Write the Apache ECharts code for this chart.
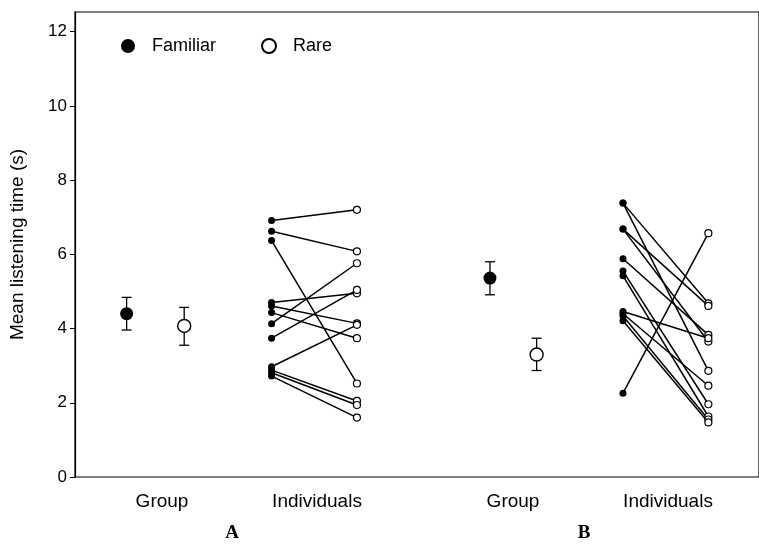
<!DOCTYPE html>
<html>
<head>
<meta charset="utf-8">
<script src="https://cdn.jsdelivr.net/npm/echarts@6/dist/echarts.min.js"></script>
<style>html,body{margin:0;padding:0;background:#fff}#c{width:759px;height:544px}</style>
</head>
<body>
<div id="c"></div>
<script>
// ---- data ----
var yTicks = [0, 2, 4, 6, 8, 10, 12];
var groupLabels = ['Group', 'Individuals', 'Group', 'Individuals'];
var panelLabels = ['A', 'B'];
var legendNames = ['Familiar', 'Rare'];
// group means with error bars [mean, low, high]
var groupA_familiar = [4.40, 3.96, 4.84];
var groupA_rare = [4.07, 3.55, 4.57];
var groupB_familiar = [5.36, 4.91, 5.80];
var groupB_rare = [3.30, 2.87, 3.74];
// individuals (familiar -> rare)
var indA_familiar = [6.91, 6.62, 6.37, 4.70, 4.61, 4.43, 4.13, 3.74, 2.97, 2.88, 2.81, 2.72];
var indA_rare     = [7.20, 6.08, 2.52, 4.95, 4.14, 3.74, 5.76, 5.04, 4.10, 2.05, 1.94, 1.60];
var indB_familiar = [7.38, 7.38, 6.68, 6.68, 5.88, 5.55, 5.42, 4.46, 4.40, 4.34, 4.21, 2.26];
var indB_rare     = [4.68, 2.86, 4.61, 3.65, 3.83, 1.96, 1.63, 3.74, 2.46, 1.55, 1.47, 6.57];

// ---- layout (x positions in axis units) ----
var X = { gAf: 52, gAr: 110, iAf: 198, iAr: 284, gBf: 418, gBr: 465, iBf: 552, iBr: 638 };

var series = [];
function addPairs(fam, rare, xf, xr) {
  for (var i = 0; i < fam.length; i++) {
    series.push({ type: 'line', data: [[xf, fam[i]], [xr, rare[i]]], symbol: 'none',
      lineStyle: { color: '#000', width: 1.5 }, silent: true, z: 2, animation: false });
  }
  series.push({ name: legendNames[0], type: 'scatter', data: fam.map(function (v) { return [xf, v]; }),
    symbol: 'circle', symbolSize: 7, itemStyle: { color: '#000', opacity: 1 }, z: 4, animation: false });
  series.push({ name: legendNames[1], type: 'scatter', data: rare.map(function (v) { return [xr, v]; }),
    symbol: 'circle', symbolSize: 7, itemStyle: { color: '#fff', borderColor: '#000', borderWidth: 1.2, opacity: 1 }, z: 4, animation: false });
}
addPairs(indA_familiar, indA_rare, X.iAf, X.iAr);
addPairs(indB_familiar, indB_rare, X.iBf, X.iBr);

var errData = [
  [X.gAf, groupA_familiar[1], groupA_familiar[2]],
  [X.gAr, groupA_rare[1], groupA_rare[2]],
  [X.gBf, groupB_familiar[1], groupB_familiar[2]],
  [X.gBr, groupB_rare[1], groupB_rare[2]]
];
series.push({
  type: 'custom', data: errData, z: 3, animation: false, silent: true,
  renderItem: function (params, api) {
    var lo = api.coord([api.value(0), api.value(1)]);
    var hi = api.coord([api.value(0), api.value(2)]);
    var w = 5;
    var st = { stroke: '#000', lineWidth: 1.3 };
    return { type: 'group', children: [
      { type: 'line', shape: { x1: lo[0], y1: lo[1], x2: hi[0], y2: hi[1] }, style: st },
      { type: 'line', shape: { x1: lo[0] - w, y1: lo[1], x2: lo[0] + w, y2: lo[1] }, style: st },
      { type: 'line', shape: { x1: hi[0] - w, y1: hi[1], x2: hi[0] + w, y2: hi[1] }, style: st }
    ] };
  }
});
series.push({ name: legendNames[0], type: 'scatter', symbol: 'circle', symbolSize: 13,
  data: [[X.gAf, groupA_familiar[0]], [X.gBf, groupB_familiar[0]]],
  itemStyle: { color: '#000', opacity: 1 }, z: 5, animation: false });
series.push({ name: legendNames[1], type: 'scatter', symbol: 'circle', symbolSize: 13,
  data: [[X.gAr, groupA_rare[0]], [X.gBr, groupB_rare[0]]],
  itemStyle: { color: '#fff', borderColor: '#000', borderWidth: 1.4, opacity: 1 }, z: 5, animation: false });

var FONT = '"Liberation Sans", Arial, sans-serif';
var labelY = 502;
function xLabel(text, x) {
  return { type: 'text', x: x, y: labelY, style: { text: text, font: '19px ' + FONT, fill: '#000', textAlign: 'center', textVerticalAlign: 'middle' } };
}
var graphics = [
  xLabel(groupLabels[0], 162), xLabel(groupLabels[1], 317),
  xLabel(groupLabels[2], 513), xLabel(groupLabels[3], 668),
  { type: 'text', x: 232, y: 533, style: { text: panelLabels[0], font: 'bold 19px "Liberation Serif", "Times New Roman", serif', fill: '#000', textAlign: 'center', textVerticalAlign: 'middle' } },
  { type: 'text', x: 584, y: 533, style: { text: panelLabels[1], font: 'bold 19px "Liberation Serif", "Times New Roman", serif', fill: '#000', textAlign: 'center', textVerticalAlign: 'middle' } }
];

var chart = echarts.init(document.getElementById('c'), null, { renderer: 'canvas' });
chart.setOption({
  animation: false,
  backgroundColor: '#fff',
  textStyle: { fontFamily: FONT },
  grid: { left: 75, top: 12, right: -5, bottom: 67, show: true, borderColor: '#000', borderWidth: 1.2, containLabel: false },
  legend: {
    data: [{ name: legendNames[0], icon: 'circle' }, { name: legendNames[1], icon: 'circle' }],
    left: 116, top: 32, itemWidth: 14, itemHeight: 14, itemGap: 45,
    textStyle: { fontSize: 18, color: '#000', fontFamily: FONT, padding: [0, 0, 0, 12] },
    selectedMode: false
  },
  xAxis: { type: 'value', min: 0, max: 689, show: false },
  yAxis: {
    type: 'value', min: 0, max: 12.53,
    name: 'Mean listening time (s)', nameLocation: 'middle', nameGap: 48, nameRotate: 90,
    nameTextStyle: { fontSize: 19, color: '#000', fontFamily: FONT },
    axisLine: { show: true, lineStyle: { color: '#000', width: 1.2 } },
    axisTick: { show: true, inside: false, length: 5, lineStyle: { color: '#000' }, customValues: yTicks },
    axisLabel: { fontSize: 17, color: '#000', margin: 8, customValues: yTicks },
    splitLine: { show: false }
  },
  graphic: graphics,
  series: series
});
</script>
</body>
</html>
